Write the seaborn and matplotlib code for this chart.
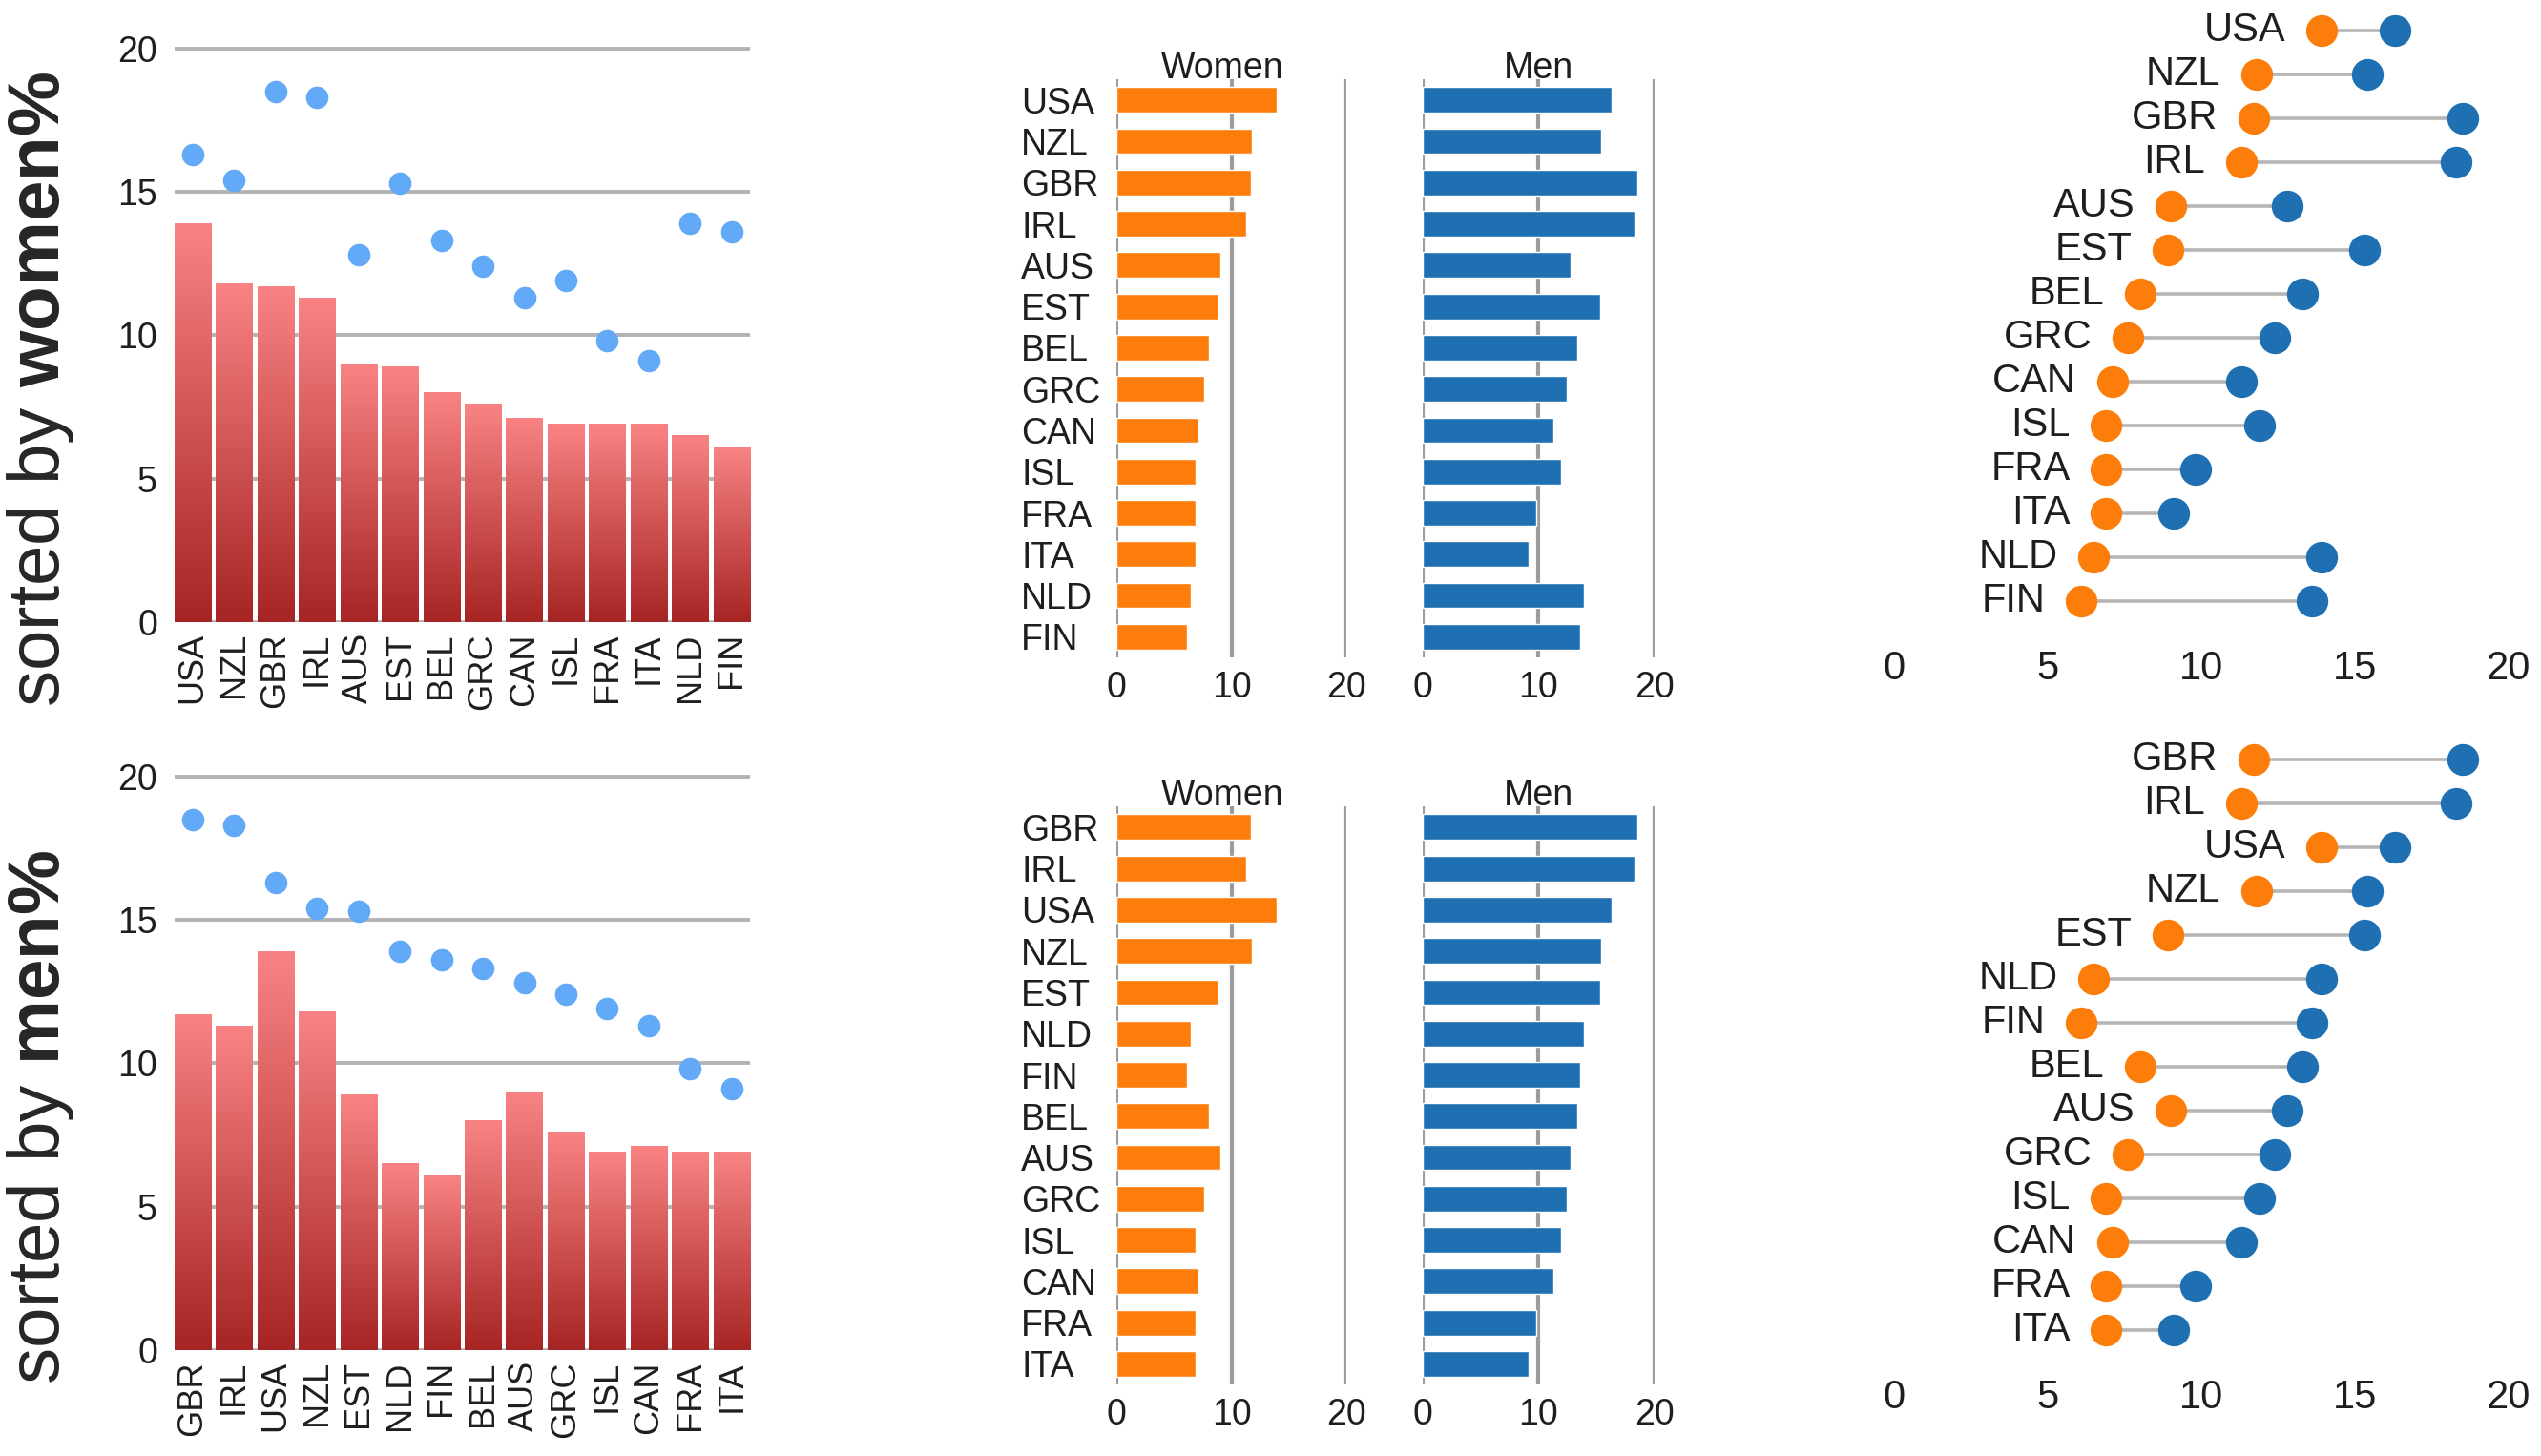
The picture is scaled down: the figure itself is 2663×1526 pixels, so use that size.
import numpy as np
import pandas as pd
import seaborn as sns
import matplotlib
matplotlib.use("Agg")
import matplotlib.pyplot as plt
from matplotlib.colors import LinearSegmentedColormap

# values (percent)
countries = ["USA", "NZL", "GBR", "IRL", "AUS", "EST", "BEL",
             "GRC", "CAN", "ISL", "FRA", "ITA", "NLD", "FIN"]
women = [13.9, 11.8, 11.7, 11.3, 9.0, 8.9, 8.0, 7.6, 7.1, 6.9, 6.9, 6.9, 6.5, 6.1]
men = [16.3, 15.4, 18.5, 18.3, 12.8, 15.3, 13.3, 12.4, 11.3, 11.9, 9.8, 9.1, 13.9, 13.6]

ORANGE = "#fd7d0a"
BLUE = "#1f70b2"
LIGHT_BLUE = "#62a9f7"
GRID = "#b3b3b3"
TEXT = "#1e1e1e"

sns.set_style("white")
plt.rcParams["font.family"] = ["Liberation Sans", "DejaVu Sans"]
plt.rcParams["mathtext.fontset"] = "custom"
plt.rcParams["mathtext.rm"] = "Liberation Sans"
plt.rcParams["mathtext.bf"] = "Liberation Sans:bold"
plt.rcParams["text.color"] = TEXT
plt.rcParams["xtick.color"] = TEXT
plt.rcParams["ytick.color"] = TEXT

df_w = pd.DataFrame({"country": countries, "women": women, "men": men})
df_m = df_w.sort_values("men", ascending=False, kind="stable").reset_index(drop=True)

fig = plt.figure(figsize=(26.63, 15.26), dpi=100)

red_cmap = LinearSegmentedColormap.from_list("reds", ["#a72424", "#f98383"])
grad = np.linspace(0, 1, 256).reshape(-1, 1)


def column_panel(ax, df, label_word):
    """bars for women with a gradient fill, dots for men"""
    order = list(df["country"])
    sns.barplot(data=df, x="country", y="women", order=order, width=0.88,
                color="#d05050", ax=ax)
    for p in ax.patches:
        x0, w, h = p.get_x(), p.get_width(), p.get_height()
        ax.imshow(grad, extent=[x0, x0 + w, 0, h], origin="lower",
                  aspect="auto", cmap=red_cmap, zorder=2)
        p.set_visible(False)
    sns.stripplot(data=df, x="country", y="men", order=order, jitter=False,
                  size=17, color=LIGHT_BLUE, linewidth=0, ax=ax, zorder=3)
    ax.set_xlim(-0.44, len(order) - 0.56)
    ax.set_ylim(0, 20.05)
    ax.set_yticks([0, 5, 10, 15, 20])
    ax.set_axisbelow(True)
    ax.grid(axis="y", color=GRID, lw=2.8)
    ax.grid(axis="x", visible=False)
    for s in ax.spines.values():
        s.set_visible(False)
    ax.tick_params(axis="y", length=9, width=2.8, color=GRID, labelsize=27, pad=4)
    ax.tick_params(axis="x", length=0, labelsize=26, rotation=90, pad=8)
    ax.set_xlabel("")
    ax.set_ylabel(r"sorted by $\mathbf{" + label_word + r"\%}$", fontsize=55)
    ax.yaxis.set_label_coords(-0.171, 0.405)


def bar_panel(ax, df, col, color, title, show_labels, title_x):
    order = list(df["country"])
    sns.barplot(data=df, y="country", x=col, order=order, orient="h",
                width=0.62, color=color, saturation=1, ax=ax)
    ax.set_xlim(0, 20)
    ax.set_ylim(len(order) - 0.5, -0.5)
    ax.set_xticks([0, 10, 20])
    ax.set_axisbelow(True)
    ax.grid(axis="x", color="#9c9c9c", lw=3)
    ax.grid(axis="y", visible=False)
    for s in ax.spines.values():
        s.set_visible(False)
    ax.tick_params(axis="x", length=0, labelsize=27, pad=10)
    ax.tick_params(axis="y", length=0, labelsize=27, pad=72)
    if show_labels:
        for t in ax.get_yticklabels():
            t.set_horizontalalignment("left")
    else:
        ax.set_yticklabels([])
    ax.set_xlabel("")
    ax.set_ylabel("")
    ax.set_title(title, fontsize=27, pad=1, x=title_x)


def dumbbell_panel(ax, df):
    order = list(df["country"])
    pos = np.arange(len(order))
    ax.hlines(pos, df["women"], df["men"], color="#b5b5b5", lw=2.6, zorder=1)
    sns.stripplot(data=df, y="country", x="women", order=order, orient="h",
                  jitter=False, size=24, color=ORANGE, linewidth=0, ax=ax,
                  zorder=3, clip_on=False)
    sns.stripplot(data=df, y="country", x="men", order=order, orient="h",
                  jitter=False, size=24, color=BLUE, linewidth=0, ax=ax,
                  zorder=3, clip_on=False)
    for i, (c, w) in enumerate(zip(df["country"], df["women"])):
        ax.annotate(c, (w, i), xytext=(-27, 0), textcoords="offset points",
                    ha="right", va="center", fontsize=30)
    ax.set_xlim(0, 20)
    ax.set_ylim(len(order) - 0.5, -0.5)
    ax.set_xticks([0, 5, 10, 15, 20])
    ax.set_yticks([])
    ax.grid(False)
    for s in ax.spines.values():
        s.set_visible(False)
    ax.tick_params(axis="x", length=0, labelsize=30, pad=20)
    ax.set_xlabel("")
    ax.set_ylabel("")


rows = [(df_w, "women", 0.5727, 0.5485, 0.5721),
        (df_m, "men", 0.0727, 0.0491, 0.0714)]
for df, word, b_left, b_mid, b_right in rows:
    ax_l = fig.add_axes([0.0687, b_left, 0.2264, 0.3951])
    column_panel(ax_l, df, word)
    ax_w = fig.add_axes([0.4394, b_mid, 0.0905, 0.397])
    bar_panel(ax_w, df, "women", ORANGE, "Women", True, 0.46)
    ax_m = fig.add_axes([0.5599, b_mid, 0.0912, 0.397])
    bar_panel(ax_m, df, "men", BLUE, "Men", False, 0.5)
    ax_d = fig.add_axes([0.7454, b_right, 0.2418, 0.422])
    dumbbell_panel(ax_d, df)

fig.savefig("out.png", dpi=100)
